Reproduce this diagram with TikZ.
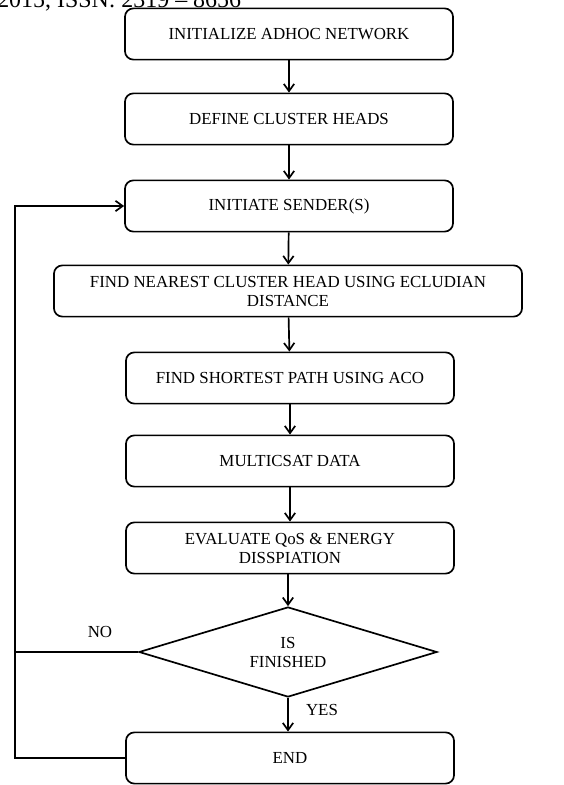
\documentclass[tikz,border=0pt]{standalone}
\usepackage{fontspec}
\setmainfont{Liberation Serif}
\usetikzlibrary{shapes.geometric,arrows.meta}

\begin{document}
\begin{tikzpicture}[x=0.025cm, y=-0.025cm,
  procbox/.style={draw, line width=1.2pt, rounded corners=6pt, minimum width=8.2cm,
    minimum height=1.28cm, align=center, font=\fontsize{12}{13.5}\selectfont},
  decision/.style={draw, line width=1.2pt, shape=diamond, aspect=3.3, inner sep=1pt,
    minimum width=7.45cm, minimum height=2.25cm, align=center, font=\fontsize{12}{13.5}\selectfont},
  flow/.style={line width=1.2pt, -{Straight Barb[length=1.8mm,width=2.6mm]}},
  lbl/.style={font=\fontsize{12}{13.5}\selectfont}]
  \useasboundingbox (0,0) rectangle (564,785);

  % Header, cut off at the top
  \node[anchor=base west, inner sep=0, font=\fontsize{17}{19}\selectfont] (header) at (-3,7) {2015, ISSN: 2319 – 8656};

  % Process boxes
  \node[procbox] (init)     at (289,34)  {INITIALIZE ADHOC NETWORK};
  \node[procbox] (heads)    at (289,119) {DEFINE CLUSTER HEADS};
  \node[procbox] (sender)   at (289,206) {INITIATE SENDER(S)};
  \node[procbox, minimum width=11.7cm] (nearest) at (288,291)
    {FIND NEAREST CLUSTER HEAD USING ECLUDIAN\\DISTANCE};
  \node[procbox] (shortest) at (290,378) {FIND SHORTEST PATH USING ACO};
  \node[procbox] (multi)    at (290,461) {MULTICSAT DATA};
  \node[procbox] (evaluate) at (290,548) {EVALUATE QoS \& ENERGY\\DISSPIATION};
  \node[decision] (finished) at (288,652) {IS\\FINISHED};
  \node[procbox] (endbox)   at (290,758) {END};

  % Labels
  \node[lbl] (no)  at (100,632) {NO};
  \node[lbl] (yes) at (322,710) {YES};

  % Main flow
  \draw[flow] (init) -- (heads);
  \draw[flow] (heads) -- (sender);
  \draw[flow] (sender) -- (nearest);
  \draw[flow] (nearest) -- (shortest);
  \draw[flow] (shortest) -- (multi);
  \draw[flow] (multi) -- (evaluate);
  \draw[flow] (evaluate.south -| finished.north) -- (finished.north);
  \draw[flow] (finished.south) -- (finished.south |- endbox.north);

  % Loop back
  \coordinate (loop) at (15,758);
  \draw[flow] (endbox.west) -- (loop) |- (sender.west);
  \draw[line width=1.2pt] (finished.west) -- (finished.west -| loop);
\end{tikzpicture}
\end{document}
